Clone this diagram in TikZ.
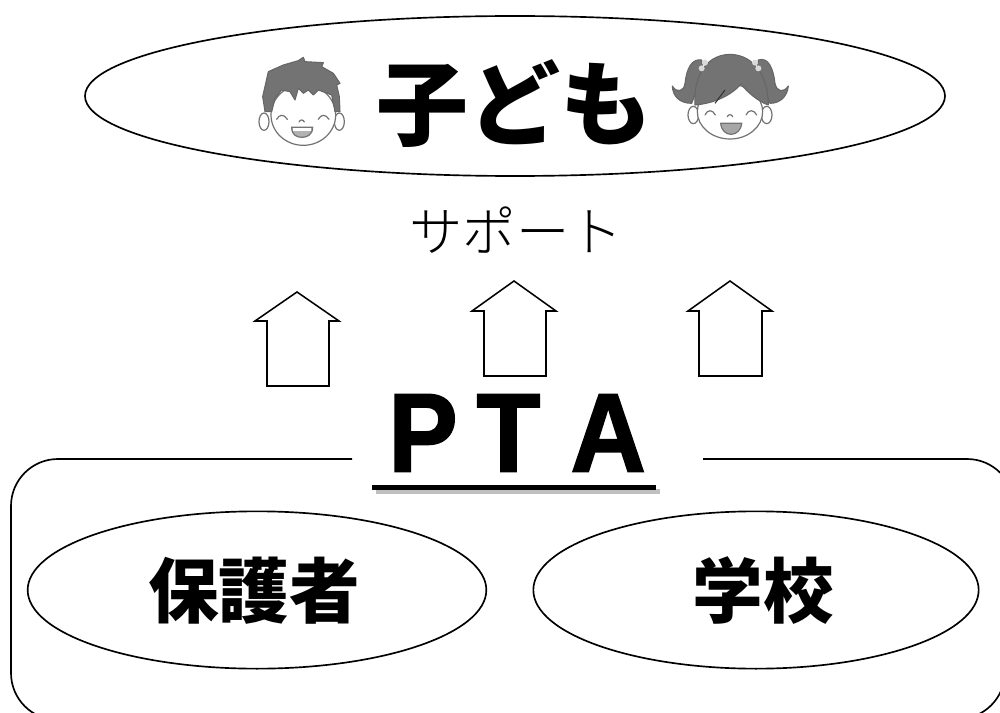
\documentclass[tikz,border=0pt]{standalone}
\usepackage{fontspec}
\usetikzlibrary{shapes.geometric}
\newfontfamily\cjkb{Noto Sans CJK JP Black}
\newfontfamily\cjkl{Noto Sans CJK JP Light}
\newfontfamily\ptafont[FakeBold=1.6,FakeStretch=0.93]{Liberation Sans Bold}
\setmainfont{Liberation Sans}
\tikzset{
 oval/.style={draw=black,line width=1.25pt,ellipse,inner sep=0pt,fill=white},
 uparrow/.style={draw=black,line width=1.15pt,fill=white,line join=miter},
 frameline/.style={line width=1.25pt},
 big/.style={font=\cjkb\fontsize{69}{69}\selectfont,inner sep=0pt},
 mid/.style={font=\cjkb\fontsize{53}{53}\selectfont,inner sep=0pt},
 face/.style={draw=black!55,line width=0.9pt,fill=white},
 hair/.style={draw=black!60,line width=0.8pt,fill=black!55,line join=round},
 feat/.style={draw=black!55,line width=0.9pt,line cap=round},
 boyscope/.style={shift={(240,40)},x=0.25pt,y=-0.25pt},
 girlscope/.style={shift={(660,40)},x=0.25pt,y=-0.25pt}
}
\begin{document}
\begin{tikzpicture}[x=0.75pt,y=-0.75pt]
\useasboundingbox (0,0) rectangle (1000,713);
\clip (0,0) rectangle (1000,713);
\node[oval,minimum width=645pt,minimum height=120pt] (kids) at (515,96) {};
\node[big] (kodomo) at (514,104) {子ども};
\node[inner sep=0pt,font=\cjkl\fontsize{40}{40}\selectfont] (support) at (516,230) {サポート};
% arrows
\draw[uparrow] (297,292) -- (339,321) -- (329,321) -- (329,386) -- (267,386) -- (267,321) -- (255,321) -- cycle;
\draw[uparrow] (514,281) -- (556,311) -- (546,311) -- (546,376) -- (484,376) -- (484,311) -- (472,311) -- cycle;
\draw[uparrow] (730,281) -- (772,311) -- (762,311) -- (762,376) -- (699,376) -- (699,311) -- (688,311) -- cycle;
% box
\coordinate (gl) at (352,459);
\coordinate (gr) at (703,459);
\draw[frameline] (gl) -- (58,459) arc[start angle=-90,end angle=-180,radius=47] -- (11,673) arc[start angle=180,end angle=90,radius=47];
\draw[frameline] (gr) -- (967,459) arc[start angle=-90,end angle=0,radius=47];
\draw[frameline] (1005,672) arc[start angle=0,end angle=90,radius=47];
% PTA
\node[inner sep=0pt,font=\ptafont\fontsize{84}{84}\selectfont] (pta) at (517,433) {P\hspace{0.17em}\kern0pt T\hspace{0.27em}\kern0pt A};
\fill[black!25] (376,489) rectangle (660,494);
\fill[black] (372,485) rectangle (656,490);
\node[oval,minimum width=344pt,minimum height=118pt] (parent) at (257,590) {};
\node[oval,minimum width=334pt,minimum height=118pt] (school) at (756,590) {};
\node[mid] (hogo) at (254,591) {保護者};
\node[mid] (gakko) at (763,591) {学校};
% boy
\begin{scope}[boyscope]
\draw[face] (72,245) ellipse (15 and 26);
\draw[face] (298,245) ellipse (15 and 26);
\draw[face] (190,225) ellipse (97 and 91);
\draw[hair] (75,215) -- (68,170) -- (85,95) -- (130,75) -- (175,62) -- (190,52) -- (195,65) -- (250,68) -- (245,80) -- (280,100) -- (300,130) -- (290,135) -- (298,170) -- (300,215) -- (285,215) -- (275,165) -- (235,150) -- (220,165) -- (205,150) -- (190,160) -- (175,145) -- (165,180) -- (150,155) -- (125,150) -- (105,175) -- (95,215) -- cycle;
\draw[feat] (110,238) .. controls (118,222) and (132,222) .. (142,238);
\draw[feat] (235,238) .. controls (243,222) and (257,222) .. (267,238);
\draw[feat] (177,246) .. controls (180,238) and (190,238) .. (193,246);
\draw[feat,fill=black!30] (155,262) -- (218,262) .. controls (218,285) and (200,292) .. (186,292) .. controls (170,292) and (155,285) .. (155,262) -- cycle;
\fill[white] (160,265) rectangle (213,274);
\end{scope}
% girl
\begin{scope}[girlscope]
\draw[face] (100,225) ellipse (16 and 26);
\draw[face] (320,225) ellipse (16 and 26);
\draw[hair] (125,60) .. controls (95,55) and (80,85) .. (75,130) .. controls (72,155) and (50,160) .. (37,138) .. controls (38,170) and (60,190) .. (95,190) -- (130,100) -- cycle;
\draw[hair] (295,60) .. controls (325,50) and (340,85) .. (345,130) .. controls (350,155) and (370,160) .. (385,138) .. controls (382,170) and (360,190) .. (330,190) -- (290,100) -- cycle;
\draw[face] (210,215) ellipse (98 and 82);
\draw[hair] (105,195) .. controls (100,120) and (130,45) .. (210,43) .. controls (290,45) and (325,120) .. (325,195) .. controls (295,185) and (260,155) .. (243,132) .. controls (215,165) and (165,190) .. (105,195) -- cycle;
\draw[draw=black!80,line width=0.8pt] (165,190) -- (195,150);
\fill[black!15] (125,85) circle (9) (135,68) circle (9) (295,85) circle (9) (285,68) circle (9);
\draw[feat] (135,225) .. controls (142,208) and (158,208) .. (166,225);
\draw[feat] (258,225) .. controls (265,208) and (282,208) .. (290,225);
\draw[feat] (202,230) .. controls (205,222) and (215,222) .. (218,230);
\draw[feat,fill=black!35] (182,250) -- (245,250) .. controls (243,272) and (228,283) .. (213,283) .. controls (198,283) and (184,272) .. (182,250) -- cycle;
\end{scope}
\end{tikzpicture}
\end{document}
